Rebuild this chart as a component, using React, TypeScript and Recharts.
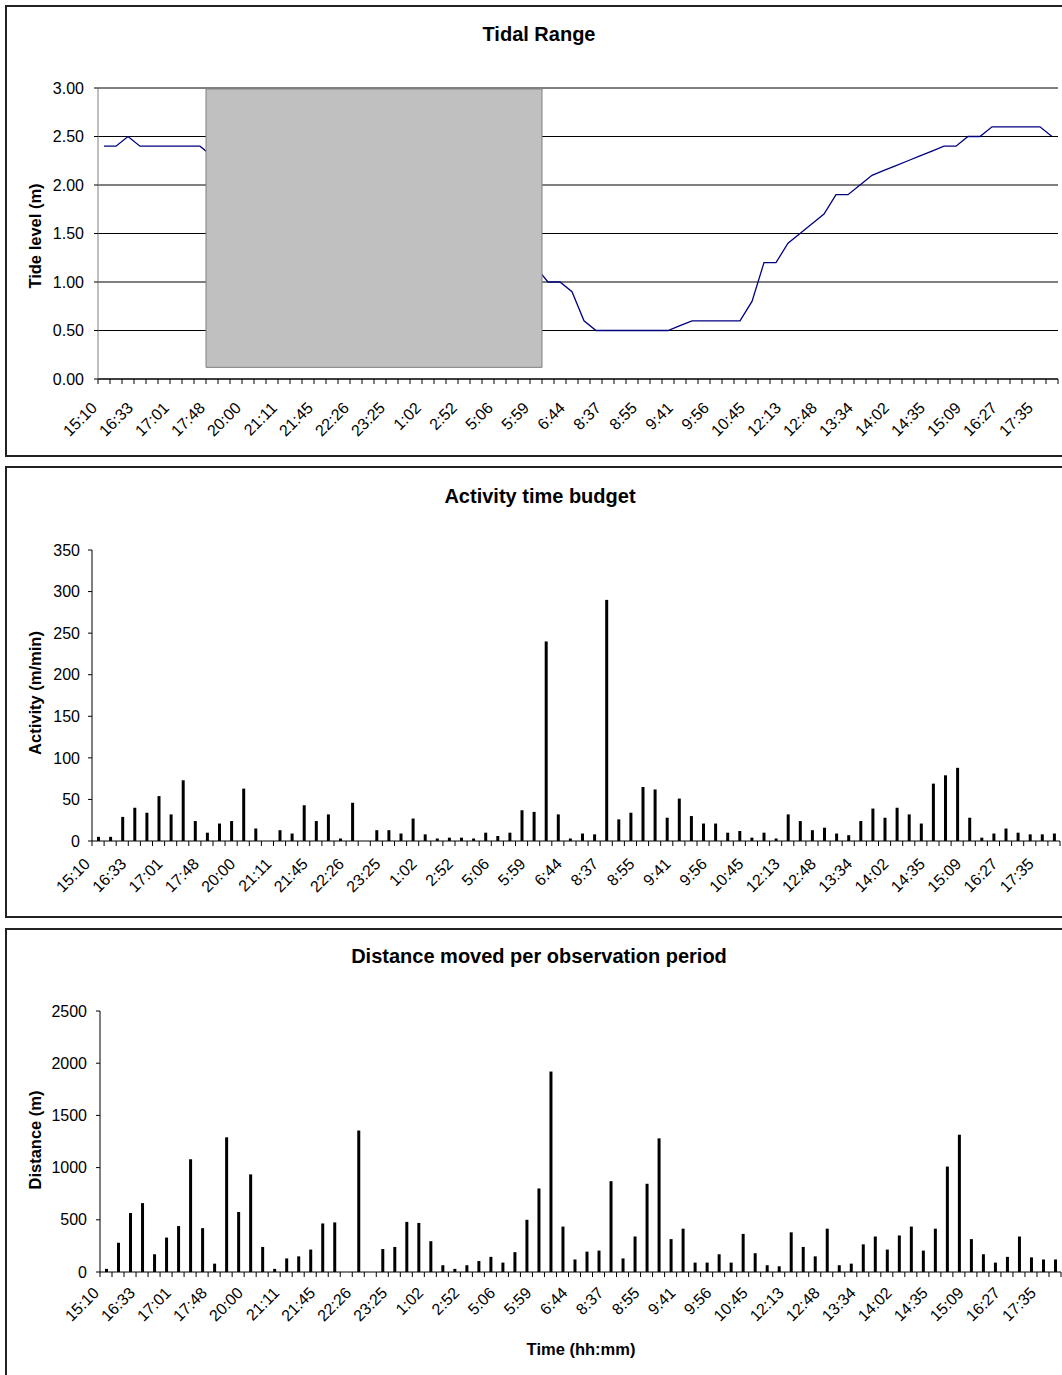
import React from 'react';
import { ComposedChart, BarChart, Bar, Line, XAxis, YAxis, CartesianGrid, ReferenceArea } from 'recharts';

const FONT = "'Liberation Sans', Arial, Helvetica, sans-serif";
const N = 80;
const slots: number[] = Array.from({ length: N }, (_, i) => i);

const tickLabels = [
  '15:10', '16:33', '17:01', '17:48', '20:00', '21:11', '21:45', '22:26', '23:25',
  '1:02', '2:52', '5:06', '5:59', '6:44', '8:37', '8:55', '9:41', '9:56',
  '10:45', '12:13', '12:48', '13:34', '14:02', '14:35', '15:09', '16:27', '17:35',
];

// Tide level (m); values hidden beneath the grey box are unknown (null)
const tideLevel: (number | null)[] = [
  2.4, 2.4, 2.5, 2.4, 2.4, 2.4, 2.4, 2.4, 2.4, 2.3,
  null, null, null, null, null, null, null, null, null, null,
  null, null, null, null, null, null, null, null, null, null,
  null, null, null, null, null, null,
  1.15, 1.0, 1.0, 0.9, 0.6, 0.5,
  0.5, 0.5, 0.5, 0.5, 0.5, 0.5,
  0.55, 0.6, 0.6, 0.6, 0.6, 0.6,
  0.8, 1.2, 1.2, 1.4, 1.5, 1.6, 1.7, 1.9, 1.9, 2.0,
  2.1, 2.15, 2.2, 2.25, 2.3, 2.35, 2.4, 2.4, 2.5, 2.5,
  2.6, 2.6, 2.6, 2.6, 2.6, 2.5,
];

// Activity (m/min)
const activity = [
  5, 5, 29, 40, 34, 54, 32, 73, 24, 10,
  21, 24, 63, 15, 0, 13, 9, 43, 24, 32,
  3, 46, 0, 13, 13, 9, 27, 8, 3, 4,
  4, 3, 10, 6, 10, 37, 35, 240, 32, 3,
  9, 8, 290, 26, 34, 65, 62, 28, 51, 30,
  21, 21, 10, 12, 4, 10, 3, 32, 24, 13,
  16, 9, 7, 24, 39, 28, 40, 32, 21, 69,
  79, 88, 28, 4, 9, 15, 10, 8, 8, 9,
];

// Distance (m)
const distance = [
  30, 280, 565, 660, 170, 330, 440, 1080, 420, 80,
  1290, 575, 935, 240, 30, 130, 150, 215, 465, 475,
  0, 1355, 0, 220, 240, 480, 470, 295, 65, 30,
  65, 105, 145, 90, 190, 500, 800, 1920, 435, 120,
  195, 205, 870, 130, 340, 845, 1280, 315, 415, 90,
  90, 170, 90, 365, 180, 65, 55, 380, 240, 150,
  415, 65, 80, 265, 340, 215, 350, 435, 205, 415,
  1010, 1315, 315, 170, 90, 145, 340, 140, 120, 120,
];

const tideTicks = [0, 0.5, 1, 1.5, 2, 2.5, 3];
const activityTicks = [0, 50, 100, 150, 200, 250, 300, 350];
const distanceTicks = [0, 500, 1000, 1500, 2000, 2500];

const tideData = slots.map((i) => ({ i, tide: tideLevel[i] }));
const activityData = slots.map((i) => ({ i, activity: activity[i] }));
const distanceData = slots.map((i) => ({ i, distance: distance[i] }));

const CHART_W = 1070;
const TICK_SIZE = 5;
const TICK_FONT = 16;

function makeXTick(bw: number, dx: number, dy: number) {
  return (props: any) => {
    const { x, y, payload } = props;
    const idx = Number(payload.value);
    const axisY = y - TICK_SIZE;
    const label = idx % 3 === 0 ? tickLabels[idx / 3] : '';
    const bx = x - bw / 2;
    const ax = x + dx;
    const ay = axisY + dy;
    return (
      <g>
        <line x1={bx} y1={axisY} x2={bx} y2={axisY + 5} stroke="#000" strokeWidth={1} />
        {idx === N - 1 ? (
          <line x1={x + bw / 2} y1={axisY} x2={x + bw / 2} y2={axisY + 5} stroke="#000" strokeWidth={1} />
        ) : null}
        {label ? (
          <text
            x={ax}
            y={ay}
            textAnchor="end"
            fontSize={TICK_FONT}
            fontFamily={FONT}
            fill="#000"
            transform={`rotate(-45 ${ax} ${ay})`}
          >
            {label}
          </text>
        ) : null}
      </g>
    );
  };
}

const yTickStyle = { fontSize: TICK_FONT, fill: '#000', fontFamily: FONT };

const panelStyle = (top: number, height: number): React.CSSProperties => ({
  position: 'absolute',
  left: 5,
  top,
  width: 1070,
  height,
  boxSizing: 'border-box',
  border: '2px solid #222',
  background: '#fff',
});

export default function App() {
  return (
    <div
      style={{
        position: 'absolute',
        left: 0,
        top: 0,
        width: 1062,
        height: 1375,
        overflow: 'hidden',
        background: '#fff',
        fontFamily: FONT,
      }}
    >
      <div style={panelStyle(5, 452)} />
      <div style={panelStyle(466, 452)} />
      <div style={panelStyle(928, 470)} />

      {/* Chart 1: Tidal range */}
      <div style={{ position: 'absolute', left: 0, top: 0 }}>
        <ComposedChart
          width={CHART_W}
          height={460}
          data={tideData}
          margin={{ top: 88, right: 12, bottom: 11, left: 38 }}
        >
          <CartesianGrid vertical={false} stroke="#000" strokeWidth={1} />
          <XAxis
            dataKey="i"
            type="category"
            scale="band"
            interval={0}
            height={70}
            tickLine={false}
            tickSize={TICK_SIZE}
            tickMargin={0}
            axisLine={{ stroke: '#000' }}
            tick={makeXTick(960 / N, -6, 30)}
          />
          <YAxis
            type="number"
            domain={[0, 3]}
            ticks={tideTicks}
            interval={0}
            width={60}
            tickSize={4}
            tickMargin={10}
            tickFormatter={(v: number) => v.toFixed(2)}
            axisLine={{ stroke: '#808080' }}
            tickLine={{ stroke: '#000' }}
            tick={yTickStyle}
          />
          <Line
            dataKey="tide"
            type="linear"
            stroke="#000080"
            strokeWidth={1.3}
            dot={false}
            activeDot={false}
            isAnimationActive={false}
          />
          <ReferenceArea
            x1={9}
            x2={36}
            y1={0.12}
            y2={2.99}
            fill="#C0C0C0"
            fillOpacity={1}
            stroke="#808080"
            strokeWidth={1}
            ifOverflow="visible"
            {...({ zIndex: 450 } as any)}
          />
        </ComposedChart>
      </div>

      {/* Chart 2: Activity time budget */}
      <div style={{ position: 'absolute', left: 0, top: 460 }}>
        <BarChart
          width={CHART_W}
          height={460}
          data={activityData}
          margin={{ top: 90, right: 10, bottom: 9, left: 32 }}
        >
          <XAxis
            dataKey="i"
            type="category"
            interval={0}
            height={70}
            tickLine={false}
            tickSize={TICK_SIZE}
            tickMargin={0}
            axisLine={{ stroke: '#000' }}
            tick={makeXTick(968 / N, -7, 24)}
          />
          <YAxis
            type="number"
            domain={[0, 350]}
            ticks={activityTicks}
            interval={0}
            width={60}
            tickSize={4}
            tickMargin={8}
            axisLine={{ stroke: '#000' }}
            tickLine={{ stroke: '#000' }}
            tick={yTickStyle}
          />
          <Bar dataKey="activity" fill="#000" barSize={3} isAnimationActive={false} />
        </BarChart>
      </div>

      {/* Chart 3: Distance moved */}
      <div style={{ position: 'absolute', left: 0, top: 920 }}>
        <BarChart
          width={CHART_W}
          height={455}
          data={distanceData}
          margin={{ top: 91, right: 9, bottom: 33, left: 40 }}
        >
          <XAxis
            dataKey="i"
            type="category"
            interval={0}
            height={70}
            tickLine={false}
            tickSize={TICK_SIZE}
            tickMargin={0}
            axisLine={{ stroke: '#000' }}
            tick={makeXTick(961 / N, -6, 22)}
          />
          <YAxis
            type="number"
            domain={[0, 2500]}
            ticks={distanceTicks}
            interval={0}
            width={60}
            tickSize={4}
            tickMargin={9}
            axisLine={{ stroke: '#000' }}
            tickLine={{ stroke: '#000' }}
            tick={yTickStyle}
          />
          <Bar dataKey="distance" fill="#000" barSize={3} isAnimationActive={false} />
        </BarChart>
      </div>

      {/* Titles */}
      <svg
        width={1062}
        height={1375}
        style={{ position: 'absolute', left: 0, top: 0, pointerEvents: 'none' }}
        fontFamily={FONT}
      >
        <text x={539} y={41} textAnchor="middle" fontSize={20} fontWeight="bold" fill="#000">Tidal Range</text>
        <text x={540} y={503} textAnchor="middle" fontSize={20} fontWeight="bold" fill="#000">Activity time budget</text>
        <text x={539} y={963} textAnchor="middle" fontSize={20} fontWeight="bold" fill="#000">Distance moved per observation period</text>
        <text x={41} y={236} transform="rotate(-90 41 236)" textAnchor="middle" fontSize={16.5} fontWeight="bold" fill="#000">Tide level (m)</text>
        <text x={41} y={693} transform="rotate(-90 41 693)" textAnchor="middle" fontSize={16.5} fontWeight="bold" fill="#000">Activity (m/min)</text>
        <text x={41} y={1140} transform="rotate(-90 41 1140)" textAnchor="middle" fontSize={16.5} fontWeight="bold" fill="#000">Distance (m)</text>
        <text x={581} y={1355} textAnchor="middle" fontSize={16.5} fontWeight="bold" fill="#000">Time (hh:mm)</text>
      </svg>
    </div>
  );
}
